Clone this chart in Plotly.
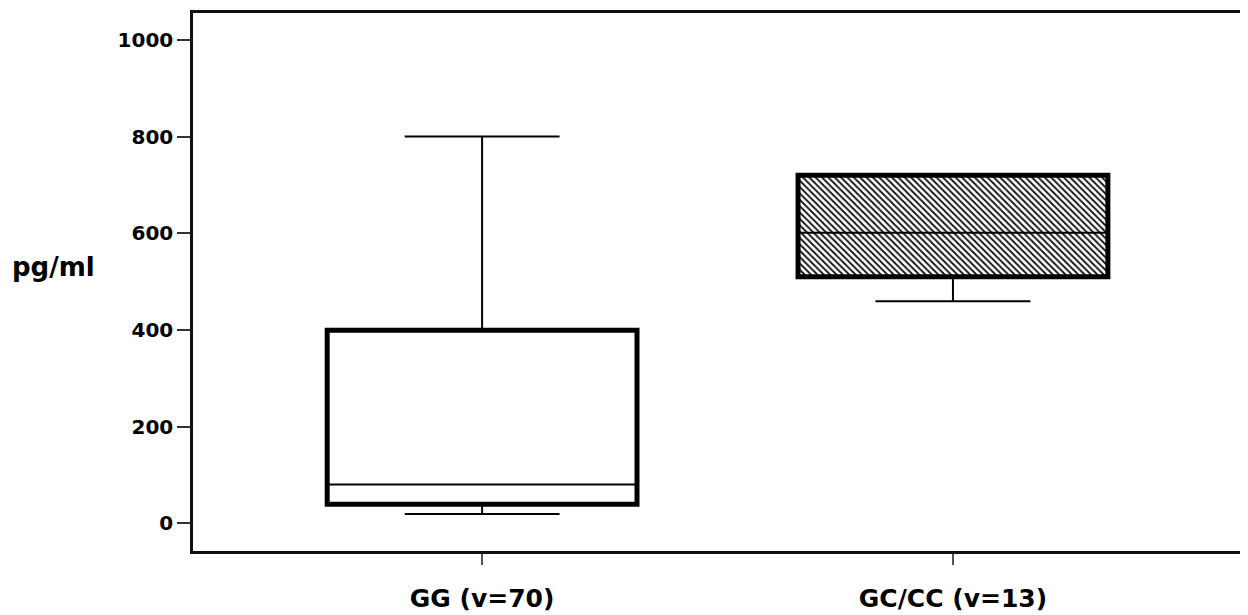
import plotly.graph_objects as go

categories = ["GG (v=70)", "GC/CC (v=13)"]
lower_fence = [19, 459]
q1 = [39, 510]
median = [80, 601]
q3 = [399, 720]
upper_fence = [800, 720]
patterns = ["", "\\"]
y_ticks = [0, 200, 400, 600, 800, 1000]

BOX_W = 0.658
FONT = "DejaVu Sans"

fig = go.Figure()

# thick box outline + fill (hatched for second group)
fig.add_trace(go.Bar(
    x=categories,
    y=[b - a for a, b in zip(q1, q3)],
    base=q1,
    width=BOX_W,
    marker=dict(
        color="white",
        line=dict(color="black", width=5),
        pattern=dict(shape=patterns, fgcolor="#111", bgcolor="white",
                     size=4.5, solidity=0.4, fillmode="replace"),
    ),
    hoverinfo="skip",
    showlegend=False,
))

# whiskers, caps, median
fig.add_trace(go.Box(
    x=categories,
    q1=q1, median=median, q3=q3,
    lowerfence=lower_fence, upperfence=upper_fence,
    width=BOX_W,
    whiskerwidth=0.5,
    line=dict(color="black", width=2),
    fillcolor="rgba(0,0,0,0)",
    boxpoints=False,
    showlegend=False,
))

fig.add_annotation(
    text="<b>pg/ml</b>", xref="paper", yref="paper",
    x=-0.174, y=0.527, xanchor="left", yanchor="middle",
    showarrow=False, font=dict(family=FONT, size=26, color="black"),
)

fig.update_layout(
    width=1240, height=607, autosize=False,
    margin=dict(l=185, r=5, t=2, b=64),
    paper_bgcolor="white", plot_bgcolor="white",
    barmode="overlay", boxmode="overlay",
    xaxis=dict(
        type="category", categoryorder="array", categoryarray=categories,
        range=[-0.614, 1.616],
        showline=True, mirror=True, linecolor="#111", linewidth=2.5,
        ticks="outside", ticklen=11, tickwidth=2, tickcolor="#555",
        showgrid=False, zeroline=False,
        tickfont=dict(family=FONT, size=25, color="black"),
        tickprefix="<b>", ticksuffix="</b>",
        ticklabelstandoff=12,
    ),
    yaxis=dict(
        range=[-57.6, 1055.6],
        tickvals=y_ticks, ticktext=[f"<b>{v}</b>" for v in y_ticks],
        showline=True, mirror=True, linecolor="#111", linewidth=2.5,
        ticks="outside", ticklen=13, tickwidth=2, tickcolor="#333",
        showgrid=False, zeroline=False,
        tickfont=dict(family=FONT, size=20, color="black"),
    ),
)

fig.write_html("out.html")
